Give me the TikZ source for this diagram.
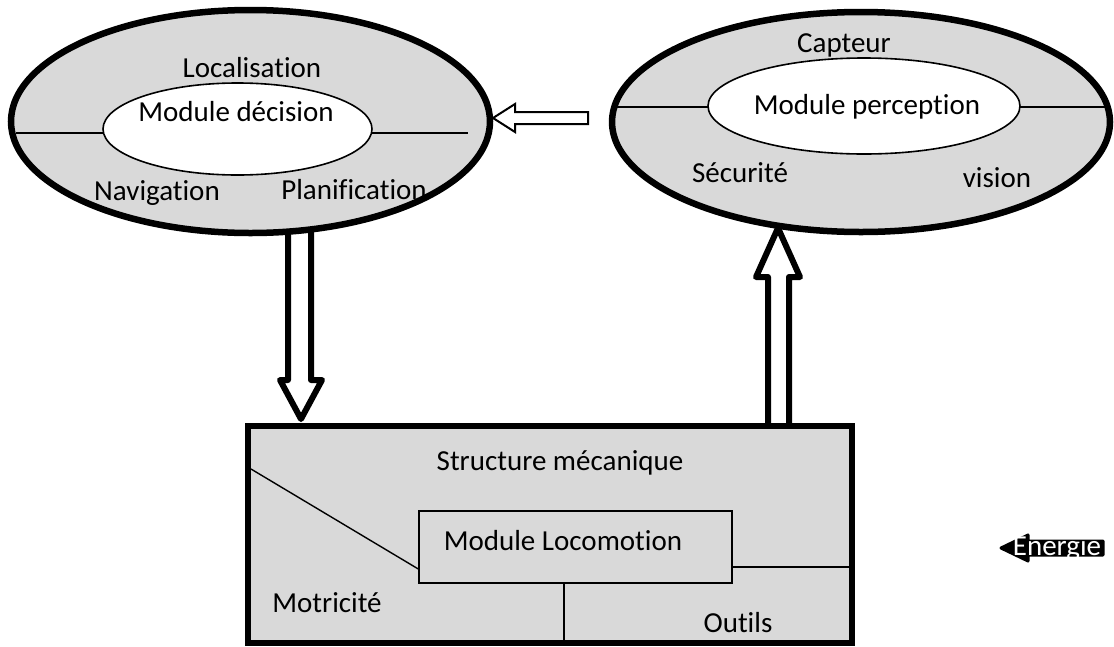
\documentclass[tikz,border=0pt]{standalone}
\usepackage{fontspec}
\setmainfont{Carlito}[Ligatures=NoCommon]
\usetikzlibrary{shapes.geometric}
\definecolor{shade}{RGB}{217,217,217}
\tikzset{
  txt/.style={font=\fontsize{29}{34}\selectfont, inner sep=0pt},
  outerell/.style={ellipse, draw, line width=6.5pt, fill=shade, inner sep=0pt},
  innerell/.style={ellipse, draw, line width=1.6pt, fill=white, inner sep=0pt},
  thin/.style={line width=1.4pt},
  bigarrow/.style={draw, line width=6pt, fill=white, line join=round},
  smallarrow/.style={draw, line width=2pt, fill=white, line join=miter}
}
\begin{document}
\begin{tikzpicture}[x=1pt,y=-1pt]
\useasboundingbox (0,0) rectangle (1114,646);

% block arrows (behind the shapes)
\draw[bigarrow] (288,232) -- (288,380) -- (280,380) -- (301,419) -- (322,380) -- (311,380) -- (311,232);
\draw[bigarrow] (768,428) -- (768,277) -- (756,277) -- (778,228) -- (800,277) -- (789,277) -- (789,428);

% decision ellipse
\node[outerell, minimum width=479pt, minimum height=223pt] (dec) at (250.5,121.5) {};
\draw[thin] (16,133) -- (103,133);
\draw[thin] (372,133) -- (468,133);
\node[innerell, minimum width=269pt, minimum height=92pt] (decin) at (237.5,129) {};
\node[txt] (loc) at (252,68) {Localisation};
\node[txt] (md) at (236,112) {Module décision};
\node[txt] (nav) at (157,193) {Navigation};
\node[txt] (pla) at (354,190) {Planification};

% perception ellipse
\node[outerell, minimum width=498pt, minimum height=220pt] (per) at (861,122) {};
\draw[thin] (613,107) -- (708,107);
\draw[thin] (1020,107) -- (1108,107);
\node[innerell, minimum width=312pt, minimum height=96pt] (perin) at (864,106) {};
\node[txt] (cap) at (844,45) {Capteur};
\node[txt] (mp) at (867,107) {Module perception};
\node[txt] (sec) at (740,173) {Sécurité};
\node[txt] (vis) at (997,178) {vision};

% arrow perception -> decision
\coordinate (tipA) at (493,118);
\draw[smallarrow] (588,112) -- (515,112) -- (515,104) -- (tipA) -- (515,132) -- (515,124) -- (588,124) -- cycle;

% mechanical structure
\node[draw, line width=6pt, fill=shade, minimum width=604pt, minimum height=217pt, inner sep=0pt] (meca) at (550,534.5) {};
\node[draw, thin, fill=shade, minimum width=313pt, minimum height=72pt, inner sep=0pt] (loco) at (575.5,547) {};
\draw[thin] (251,469) -- (loco.west |- 0,569);
\draw[thin] (loco.east |- 0,567) -- (849,567);
\draw[thin] (loco.south -| 564,0) -- (564,640);
\node[txt] (sm) at (560,463) {Structure mécanique};
\node[txt] (ml) at (563,541) {Module Locomotion};
\node[txt] (mot) at (327,603) {Motricité};
\node[txt] (out) at (738,623) {Outils};

% energy arrow
\draw[fill=black, line width=3pt, line join=round] (1103,541) -- (1028,541) -- (1028,535) -- (1001,548) -- (1028,561) -- (1028,555) -- (1103,555) -- cycle;
\node[txt, text=white] (ene) at (1057,548) {Energie};
\end{tikzpicture}
\end{document}
